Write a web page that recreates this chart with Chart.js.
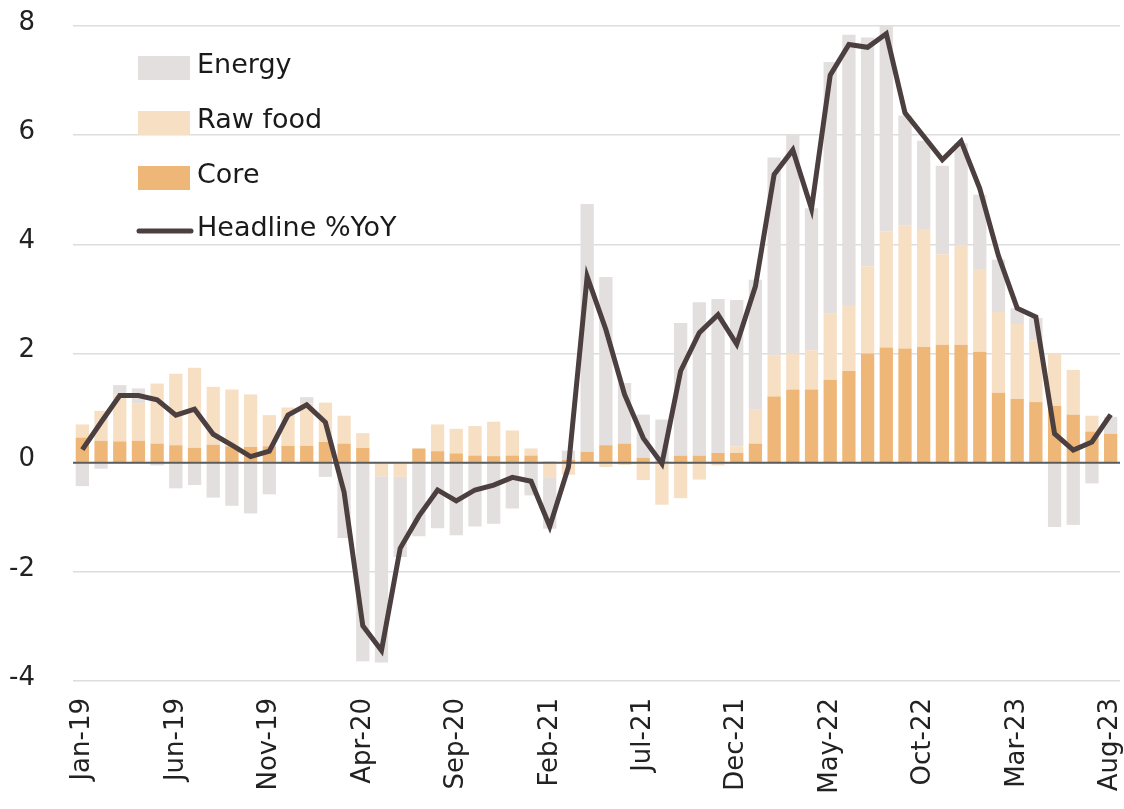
<!DOCTYPE html>
<html>
<head>
<meta charset="utf-8">
<script src="https://cdn.jsdelivr.net/npm/chart.js@4.4.0/dist/chart.umd.min.js"></script>
<style>
  html, body { margin: 0; padding: 0; background: #ffffff; }
  #wrap { width: 1124px; height: 809px; position: relative; }
</style>
</head>
<body>
<div id="wrap"><canvas id="c" width="1124" height="809"></canvas></div>
<script>
const months = [
  'Jan-19','Feb-19','Mar-19','Apr-19','May-19','Jun-19','Jul-19','Aug-19','Sep-19','Oct-19','Nov-19','Dec-19',
  'Jan-20','Feb-20','Mar-20','Apr-20','May-20','Jun-20','Jul-20','Aug-20','Sep-20','Oct-20','Nov-20','Dec-20',
  'Jan-21','Feb-21','Mar-21','Apr-21','May-21','Jun-21','Jul-21','Aug-21','Sep-21','Oct-21','Nov-21','Dec-21',
  'Jan-22','Feb-22','Mar-22','Apr-22','May-22','Jun-22','Jul-22','Aug-22','Sep-22','Oct-22','Nov-22','Dec-22',
  'Jan-23','Feb-23','Mar-23','Apr-23','May-23','Jun-23','Jul-23','Aug-23'
];
const tickLabels = ['Jan-19','Jun-19','Nov-19','Apr-20','Sep-20','Feb-21','Jul-21','Dec-21','May-22','Oct-22','Mar-23','Aug-23'];
const yTicks = [-4, -2, 0, 2, 4, 6, 8];

const core = [
  0.46,0.40,0.39,0.40,0.35,0.32,0.27,0.33,0.30,0.29,0.30,0.31,
  0.31,0.38,0.35,0.27,0.00,0.00,0.26,0.21,0.17,0.13,0.12,0.13,
  0.13,0.02,0.05,0.20,0.32,0.35,0.09,0.03,0.13,0.13,0.18,0.18,
  0.35,1.21,1.34,1.34,1.52,1.68,2.00,2.11,2.09,2.12,2.16,2.16,
  2.03,1.28,1.17,1.11,1.04,0.88,0.57,0.53
];
const rawFood = [
  0.24,0.55,0.86,0.69,1.10,1.31,1.47,1.06,1.04,0.96,0.57,0.70,
  0.77,0.72,0.51,0.27,-0.25,-0.26,0.00,0.49,0.45,0.54,0.63,0.46,
  0.13,-0.28,-0.22,0.00,-0.08,-0.04,-0.32,-0.77,-0.65,-0.31,-0.05,0.12,
  0.63,0.76,0.66,0.72,1.21,1.21,1.60,2.13,2.26,2.16,1.66,1.83,
  1.52,1.48,1.37,1.13,0.96,0.82,0.29,0.00
];
const energy = [
  -0.43,-0.11,0.17,0.27,-0.05,-0.47,-0.41,-0.64,-0.79,-0.93,-0.58,0.00,
  0.12,-0.26,-1.38,-3.64,-3.41,-1.47,-1.35,-1.20,-1.33,-1.17,-1.12,-0.84,
  -0.60,-0.93,0.17,4.54,3.08,1.11,0.79,0.76,2.43,2.81,2.82,2.68,
  2.37,3.62,4.02,2.60,4.61,4.95,4.19,3.76,2.01,1.62,1.62,1.86,
  1.36,0.96,0.29,0.41,-1.18,-1.14,-0.38,0.31
];
const headline = [
  0.24,0.74,1.23,1.23,1.15,0.87,0.98,0.52,0.32,0.11,0.21,0.87,
  1.06,0.74,-0.54,-2.99,-3.44,-1.57,-0.98,-0.50,-0.70,-0.50,-0.41,-0.27,
  -0.34,-1.17,-0.08,3.41,2.44,1.25,0.45,-0.02,1.68,2.38,2.71,2.17,
  3.23,5.28,5.73,4.65,7.10,7.66,7.61,7.86,6.41,5.98,5.55,5.89,
  5.02,3.79,2.83,2.67,0.53,0.23,0.38,0.88
];

const FONT = "'DejaVu Sans', sans-serif";
const C_ENERGY = '#e2dfde';
const C_FOOD = '#f7dfc4';
const C_CORE = '#eeb677';
const C_LINE = '#4b3f3f';

const zeroLinePlugin = {
  id: 'zeroLine',
  beforeDatasetDraw(chart, args) {
    if (args.index !== 3) return;
    const y = chart.scales.y.getPixelForValue(0);
    const a = chart.chartArea;
    const ctx = chart.ctx;
    ctx.save();
    ctx.strokeStyle = '#5c5c5c';
    ctx.lineWidth = 2;
    ctx.beginPath();
    ctx.moveTo(a.left, y);
    ctx.lineTo(a.right, y);
    ctx.stroke();
    ctx.restore();
  }
};

const legendPlugin = {
  id: 'boxLegend',
  afterDraw(chart) {
    const ctx = chart.ctx;
    const ds = chart.data.datasets;
    const order = [2, 1, 0, 3];
    const rowsY = [68, 123, 178, 231];
    const boxX = 138, boxW = 52, boxH = 24, textX = 197;
    ctx.save();
    ctx.font = '27px ' + FONT;
    ctx.fillStyle = '#1a1a1a';
    ctx.textBaseline = 'alphabetic';
    ctx.textAlign = 'left';
    order.forEach((di, i) => {
      const d = ds[di];
      const cy = rowsY[i];
      if (d.type === 'line') {
        ctx.strokeStyle = d.borderColor;
        ctx.lineWidth = 5;
        ctx.lineCap = 'round';
        ctx.beginPath();
        ctx.moveTo(boxX + 1, cy);
        ctx.lineTo(boxX + boxW + 1, cy);
        ctx.stroke();
      } else {
        ctx.fillStyle = d.backgroundColor;
        ctx.fillRect(boxX, cy - boxH / 2, boxW, boxH);
      }
      ctx.fillStyle = '#1a1a1a';
      ctx.fillText(d.label, textX, cy + 5);
    });
    ctx.restore();
  }
};

new Chart(document.getElementById('c'), {
  data: {
    labels: months,
    datasets: [
      { type: 'bar', label: 'Core', data: core, backgroundColor: C_CORE, stack: 's', order: 1,
        barPercentage: 0.71, categoryPercentage: 1.0 },
      { type: 'bar', label: 'Raw food', data: rawFood, backgroundColor: C_FOOD, stack: 's', order: 1,
        barPercentage: 0.71, categoryPercentage: 1.0 },
      { type: 'bar', label: 'Energy', data: energy, backgroundColor: C_ENERGY, stack: 's', order: 1,
        barPercentage: 0.71, categoryPercentage: 1.0 },
      { type: 'line', label: 'Headline %YoY', data: headline, borderColor: C_LINE, backgroundColor: C_LINE,
        borderWidth: 5, pointRadius: 0, tension: 0, order: 0, borderJoinStyle: 'miter' }
    ]
  },
  options: {
    responsive: false,
    animation: false,
    devicePixelRatio: 1,
    layout: { padding: { top: 26, right: 4, bottom: 0, left: 0 } },
    plugins: { legend: { display: false }, tooltip: { enabled: false } },
    scales: {
      x: {
        stacked: true,
        offset: true,
        grid: { display: false, drawTicks: false },
        border: { display: false },
        ticks: {
          autoSkip: false, maxRotation: 90, minRotation: 90, padding: 17,
          color: '#222222', font: { family: FONT, size: 26 },
          callback: function (v, i) { return tickLabels.includes(months[i]) ? months[i] : ''; }
        },
        afterFit(scale) { scale.height = 128; scale.paddingLeft = 0; scale.paddingRight = 0; }
      },
      y: {
        stacked: true,
        min: -4, max: 8,
        afterBuildTicks(scale) { scale.ticks = yTicks.map(v => ({ value: v })); },
        grid: { color: '#dddddd', lineWidth: 1.5, drawTicks: false },
        border: { display: false },
        ticks: {
          padding: 38, crossAlign: 'near', labelOffset: -3,
          color: '#222222', font: { family: FONT, size: 26 }
        },
        afterFit(scale) { scale.width = 73; scale.paddingTop = 0; scale.paddingBottom = 0; }
      }
    }
  },
  plugins: [zeroLinePlugin, legendPlugin]
});
</script>
</body>
</html>
